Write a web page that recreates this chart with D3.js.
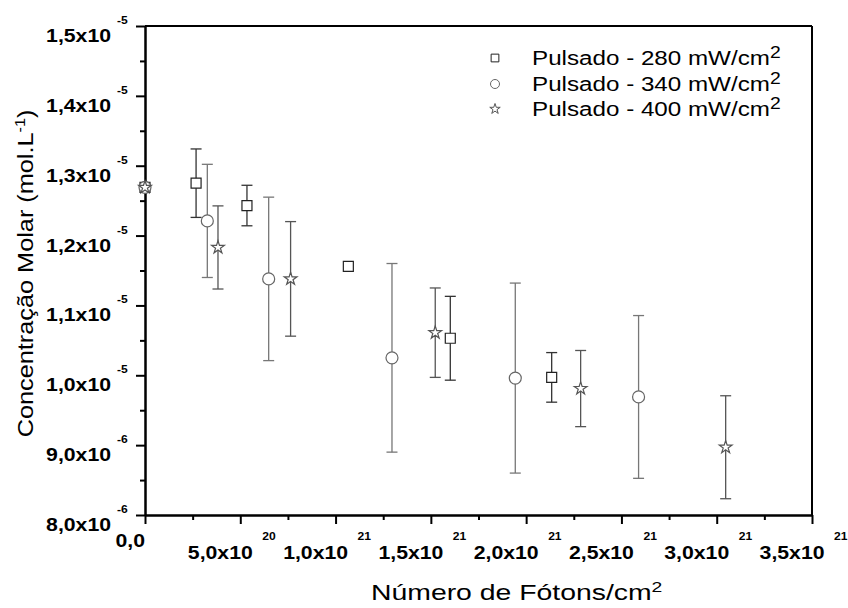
<!DOCTYPE html>
<html>
<head>
<meta charset="utf-8">
<script src="https://cdn.jsdelivr.net/npm/d3@7"></script>
<style>
  body { margin: 0; background: #fff; }
  text { font-family: Arial, "Liberation Sans", sans-serif; fill: #000; }
</style>
</head>
<body>
<div id="chart"></div>
<script>
// axis ticks
const xTicks = [0, 5e20, 1e21, 1.5e21, 2e21, 2.5e21, 3e21, 3.5e21];
const xTickMant = ["0,0", "5,0", "1,0", "1,5", "2,0", "2,5", "3,0", "3,5"];
const xTickExp = ["", "20", "21", "21", "21", "21", "21", "21"];
const yTicks = [8e-6, 9e-6, 1e-5, 1.1e-5, 1.2e-5, 1.3e-5, 1.4e-5, 1.5e-5];
const yTickMant = ["8,0", "9,0", "1,0", "1,1", "1,2", "1,3", "1,4", "1,5"];
const yTickExp = ["-6", "-6", "-5", "-5", "-5", "-5", "-5", "-5"];

// series: Pulsado - 280 mW/cm2
const x280 = [0, 2.68e20, 5.35e20, 1.067e21, 1.602e21, 2.134e21];
const y280 = [1.269e-5, 1.275e-5, 1.243e-5, 1.156e-5, 1.053e-5, 9.97e-6];
const e280 = [0, 4.9e-7, 2.9e-7, 0, 6.0e-7, 3.55e-7];
// Pulsado - 340 mW/cm2
const x340 = [0, 3.27e20, 6.49e20, 1.296e21, 1.943e21, 2.59e21];
const y340 = [1.269e-5, 1.221e-5, 1.138e-5, 1.025e-5, 9.96e-6, 9.69e-6];
const e340 = [0, 8.1e-7, 1.17e-6, 1.35e-6, 1.36e-6, 1.165e-6];
// Pulsado - 400 mW/cm2
const x400 = [0, 3.83e20, 7.64e20, 1.523e21, 2.286e21, 3.047e21];
const y400 = [1.269e-5, 1.183e-5, 1.138e-5, 1.061e-5, 9.81e-6, 8.97e-6];
const e400 = [0, 5.95e-7, 8.2e-7, 6.4e-7, 5.45e-7, 7.37e-7];

const seriesNames = ["280", "340", "400"];

const width = 848, height = 608;
const margin = { top: 26, right: 36, bottom: 93, left: 145 };

const svg = d3.select("#chart")
    .append("svg")
    .attr("width", width)
    .attr("height", height);

const x = d3.scaleLinear().domain([0, 3.5e21]).range([margin.left, width - margin.right]);
const y = d3.scaleLinear().domain([8e-6, 1.5e-5]).range([height - margin.bottom, margin.top]);

// text helper: horizontally stretched label at (px,py)
function label(px, py, sx) {
    return svg.append("g").attr("transform", `translate(${px},${py}) scale(${sx},1)`);
}

// minor ticks (midpoints)
const xMinor = xTicks.slice(0, -1).map((d, i) => (d + xTicks[i + 1]) / 2);
const yMinor = yTicks.slice(0, -1).map((d, i) => (d + yTicks[i + 1]) / 2);

svg.append("g")
    .attr("transform", `translate(0,${y.range()[0]})`)
    .call(d3.axisBottom(x).tickValues(xTicks).tickSize(9).tickSizeOuter(0).tickFormat(""));
svg.append("g")
    .attr("transform", `translate(0,${y.range()[0]})`)
    .call(d3.axisBottom(x).tickValues(xMinor).tickSize(5).tickSizeOuter(0).tickFormat(""));
svg.append("g")
    .attr("transform", `translate(${x.range()[0]},0)`)
    .call(d3.axisLeft(y).tickValues(yTicks).tickSize(9).tickSizeOuter(0).tickFormat(""));
svg.append("g")
    .attr("transform", `translate(${x.range()[0]},0)`)
    .call(d3.axisLeft(y).tickValues(yMinor).tickSize(5).tickSizeOuter(0).tickFormat(""));

svg.selectAll(".domain").attr("stroke", "#000").attr("stroke-width", 2);
svg.selectAll(".tick line").attr("stroke", "#000").attr("stroke-width", 2);

// top and right frame
svg.append("line")
    .attr("x1", x.range()[0]).attr("x2", x.range()[1])
    .attr("y1", y.range()[1]).attr("y2", y.range()[1])
    .attr("stroke", "#000").attr("stroke-width", 2);
svg.append("line")
    .attr("x1", x.range()[1]).attr("x2", x.range()[1])
    .attr("y1", y.range()[1]).attr("y2", y.range()[0])
    .attr("stroke", "#000").attr("stroke-width", 2);

// x tick labels
xTicks.forEach((t, i) => {
    if (i === 0) {
        label(x(t), y.range()[0] + 32, 1.18).append("text")
            .attr("text-anchor", "end")
            .style("font-size", "18px").style("font-weight", "bold")
            .text(xTickMant[i]);
        return;
    }
    label(x(t) + 12.5, y.range()[0] + 44, 1.18).append("text")
        .attr("text-anchor", "end")
        .style("font-size", "18px").style("font-weight", "bold")
        .text(xTickMant[i] + "x10");
    label(x(t) + 22, y.range()[0] + 25, 1.1).append("text")
        .style("font-size", "11px").style("font-weight", "bold")
        .text(xTickExp[i]);
});

// y tick labels
yTicks.forEach((t, i) => {
    label(111, y(t) + 16, 1.18).append("text")
        .attr("text-anchor", "end")
        .style("font-size", "18px").style("font-weight", "bold")
        .text(yTickMant[i] + "x10");
    label(117, y(t) - 2, 1.1).append("text")
        .style("font-size", "11px").style("font-weight", "bold")
        .text(yTickExp[i]);
});

// axis titles
const xt = label(371, 600, 1.29).append("text")
    .style("font-size", "22px");
xt.append("tspan").text("Número de Fótons/cm");
xt.append("tspan").attr("dy", -8).style("font-size", "15px").text("2");

const yt = svg.append("g")
    .attr("transform", `translate(33,${(110 + 437) / 2}) rotate(-90) scale(1.15,1)`)
    .append("text")
    .attr("text-anchor", "middle")
    .style("font-size", "22px");
yt.append("tspan").text("Concentração Molar (mol.L");
yt.append("tspan").attr("dy", -8).style("font-size", "14px").text("-1");
yt.append("tspan").attr("dy", 8).text(")");

// series drawing
const series = [
    { name: seriesNames[0], xs: x280, ys: y280, es: e280, shape: d3.symbolSquare, size: 100, color: "#222", bar: "#333" },
    { name: seriesNames[1], xs: x340, ys: y340, es: e340, shape: d3.symbolCircle, size: 113, color: "#666", bar: "#777" },
    { name: seriesNames[2], xs: x400, ys: y400, es: e400, shape: d3.symbolStar, size: 50, color: "#555", bar: "#555" }
];

const capW = 5.5;
series.forEach(s => {
    const pts = s.xs.map((d, i) => ({ x: d, y: s.ys[i], e: s.es[i] }));
    const g = svg.append("g");
    const bars = g.selectAll(".err")
        .data(pts.filter(d => d.e > 0))
        .enter().append("g")
        .attr("stroke", s.bar)
        .attr("stroke-width", 1.3);
    bars.append("line")
        .attr("x1", d => x(d.x)).attr("x2", d => x(d.x))
        .attr("y1", d => y(d.y - d.e)).attr("y2", d => y(d.y + d.e));
    bars.append("line")
        .attr("x1", d => x(d.x) - capW).attr("x2", d => x(d.x) + capW)
        .attr("y1", d => y(d.y + d.e)).attr("y2", d => y(d.y + d.e));
    bars.append("line")
        .attr("x1", d => x(d.x) - capW).attr("x2", d => x(d.x) + capW)
        .attr("y1", d => y(d.y - d.e)).attr("y2", d => y(d.y - d.e));
    g.selectAll("path.mark")
        .data(pts)
        .enter().append("path")
        .attr("class", "mark")
        .attr("d", d3.symbol().type(s.shape).size(s.size))
        .attr("transform", d => `translate(${x(d.x)},${y(d.y)})`)
        .attr("fill", "#fff")
        .attr("stroke", s.color)
        .attr("stroke-width", 1.2);
});

// legend
const legendY = [58, 84, 109];
const legendSize = [60, 64, 34];
series.forEach((s, i) => {
    svg.append("path")
        .attr("d", d3.symbol().type(s.shape).size(legendSize[i]))
        .attr("transform", `translate(495,${legendY[i]})`)
        .attr("fill", "#fff")
        .attr("stroke", s.color)
        .attr("stroke-width", 1);
    const t = label(532, legendY[i] + 7, 1.21).append("text")
        .style("font-size", "20px");
    t.append("tspan").text(`Pulsado - ${s.name} mW/cm`);
    t.append("tspan").attr("dy", -7).style("font-size", "16px").text("2");
});
</script>
</body>
</html>
